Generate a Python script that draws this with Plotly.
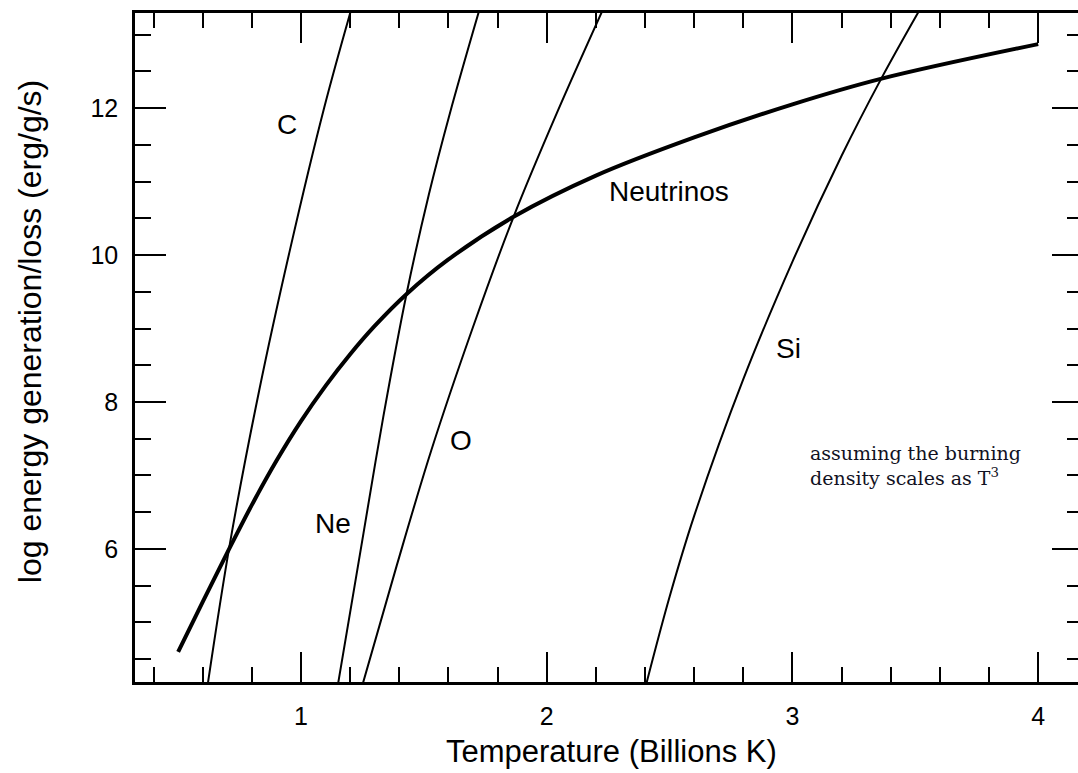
import plotly.graph_objects as go

# Temperature (billions K) vs. log energy generation / loss (erg/g/s)
nu_T = [0.50, 0.60, 0.70, 0.80, 0.90, 1.00, 1.10, 1.20, 1.30, 1.43, 1.60,
        1.865, 2.20, 2.60, 3.00, 3.363, 4.00]
nu_log = [4.60, 5.28, 5.95, 6.60, 7.20, 7.74, 8.22, 8.65, 9.035, 9.47, 9.94,
          10.52, 11.08, 11.60, 12.05, 12.40, 12.87]

c_T = [0.620, 0.711, 0.830, 0.955, 1.094, 1.205]
c_log = [4.15, 6.08, 8.16, 10.07, 12.00, 13.35]

ne_T = [1.150, 1.254, 1.335, 1.430, 1.520, 1.606, 1.727]
ne_log = [4.15, 6.21, 7.80, 9.48, 10.82, 11.93, 13.35]

o_T = [1.250, 1.390, 1.530, 1.700, 1.865, 2.041, 2.230]
o_log = [4.15, 5.78, 7.34, 9.02, 10.52, 11.93, 13.35]

si_T = [2.404, 2.500, 2.600, 2.800, 3.000, 3.200, 3.363, 3.520]
si_log = [4.15, 5.35, 6.45, 8.31, 9.91, 11.35, 12.41, 13.35]

# Curve labels: (text, T, log value)
labels = [("C", 0.943, 11.77), ("Ne", 1.130, 6.35), ("O", 1.651, 7.47),
          ("Neutrinos", 2.498, 10.86), ("Si", 2.982, 8.73)]

x_title = "Temperature (Billions K)"
y_title = "log energy generation/loss (erg/g/s)"

x_range = [0.3244, 4.162]
y_range = [4.19, 13.293]

fig = go.Figure()
thin = dict(color="black", width=2)
for xs, ys in [(c_T, c_log), (ne_T, ne_log), (o_T, o_log), (si_T, si_log)]:
    fig.add_trace(go.Scatter(x=xs, y=ys, mode="lines", line=dict(shape="spline", **thin),
                             hoverinfo="skip", showlegend=False))
fig.add_trace(go.Scatter(x=nu_T, y=nu_log, mode="lines",
                         line=dict(color="black", width=4, shape="spline"),
                         hoverinfo="skip", showlegend=False))
# carrier for the right-hand tick marks
fig.add_trace(go.Scatter(x=[x_range[0]], y=[y_range[0]], yaxis="y2", mode="markers",
                         marker=dict(opacity=0), hoverinfo="skip", showlegend=False))

font_sans = "Liberation Sans, Arial, Helvetica, sans-serif"
for text, tx, ty in labels:
    fig.add_annotation(x=tx, y=ty, text=text, showarrow=False,
                       font=dict(family=font_sans, size=28, color="black"))

fig.add_annotation(x=3.063, y=7.14, xanchor="left", yanchor="middle", align="left",
                   text="assuming the burning<br>density scales as T<sup>3</sup>",
                   showarrow=False,
                   font=dict(family="DejaVu Serif, Liberation Serif, serif", size=19, color="#111122"))

# axis titles
fig.add_annotation(xref="paper", yref="paper", x=0.5058, y=-0.1046,
                   xanchor="center", yanchor="middle", text=x_title, showarrow=False,
                   font=dict(family=font_sans, size=31, color="black"))
fig.add_annotation(xref="paper", yref="paper", x=-0.1113, y=0.523,
                   xanchor="center", yanchor="middle", text=y_title, textangle=-90,
                   showarrow=False, font=dict(family=font_sans, size=32, color="black"))

fig.update_layout(
    width=1078, height=773,
    margin=dict(l=135, r=0, t=13, b=91),
    paper_bgcolor="white", plot_bgcolor="white",
    font=dict(family=font_sans, color="black"),
    xaxis=dict(
        range=x_range, tick0=0, dtick=1, ticks="inside", ticklen=30, tickwidth=2,
        tickcolor="black", showline=True, linewidth=2.5, linecolor="black",
        mirror="ticks", showgrid=False, zeroline=False,
        minor=dict(ticks="inside", ticklen=15, tickwidth=2, dtick=0.2, tick0=0,
                   tickcolor="black", showgrid=False),
        tickfont=dict(size=25, family=font_sans), ticklabelstandoff=10,
    ),
    yaxis=dict(
        range=y_range, tick0=0, dtick=2, ticks="inside", ticklen=31, tickwidth=2,
        tickcolor="black", showline=True, linewidth=2.5, linecolor="black",
        mirror=False, showgrid=False, zeroline=False,
        minor=dict(ticks="inside", ticklen=16, tickwidth=2, dtick=0.5, tick0=0,
                   tickcolor="black", showgrid=False),
        tickfont=dict(size=25, family=font_sans), ticklabelstandoff=9,
    ),
    yaxis2=dict(
        range=y_range, overlaying="y", side="right", tick0=0, dtick=2,
        ticks="inside", ticklen=26, tickwidth=2, tickcolor="black",
        showline=False, showgrid=False, zeroline=False, showticklabels=False,
        minor=dict(ticks="inside", ticklen=11, tickwidth=2, dtick=0.5, tick0=0,
                   tickcolor="black", showgrid=False),
    ),
)

fig.write_html("out.html")
